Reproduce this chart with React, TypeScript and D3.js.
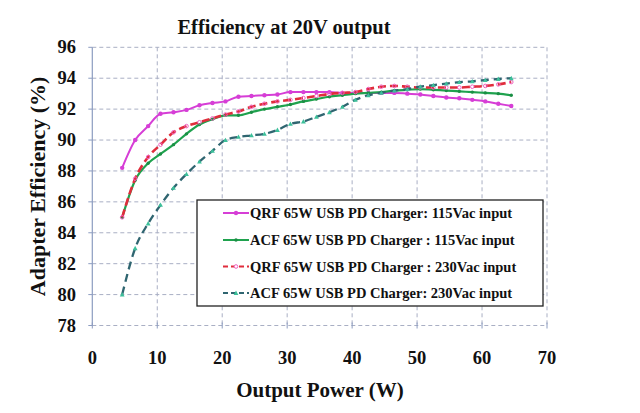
import React from "react";
import * as d3 from "d3";

const power = [
  4.6, 6.6, 8.6, 10.5, 12.5, 14.5, 16.5, 18.5, 20.5, 22.5, 24.5, 26.5, 28.5, 30.5, 32.5, 34.5,
  36.5, 38.5, 40.5, 42.5, 44.5, 46.5, 48.5, 50.5, 52.5, 54.5, 56.5, 58.5, 60.5, 62.5, 64.5,
];

const qrf115 = [
  88.2, 90.0, 90.9, 91.7, 91.8, 91.95, 92.25, 92.4, 92.5, 92.8, 92.85, 92.9, 92.95, 93.1, 93.1, 93.1,
  93.1, 93.05, 93.05, 93.05, 93.05, 93.05, 93.0, 92.95, 92.85, 92.75, 92.7, 92.6, 92.5, 92.35, 92.2,
];
const acf115 = [
  85.0, 87.4, 88.5, 89.1, 89.7, 90.4, 91.0, 91.35, 91.6, 91.6, 91.8, 92.0, 92.15, 92.3, 92.5, 92.65,
  92.8, 92.9, 93.0, 93.05, 93.1, 93.2, 93.25, 93.3, 93.25, 93.2, 93.15, 93.1, 93.05, 93.0, 92.9,
];
const qrf230 = [
  85.0, 87.5, 88.9, 89.7, 90.5, 90.9, 91.15, 91.4, 91.65, 91.85, 92.15, 92.35, 92.5, 92.6, 92.72, 92.85,
  92.98, 93.05, 93.1, 93.3, 93.45, 93.5, 93.45, 93.4, 93.4, 93.4, 93.4, 93.45, 93.5, 93.6, 93.75,
];
const acf230 = [
  80.0, 83.0, 84.6, 85.8, 86.9, 87.8, 88.6, 89.3, 90.0, 90.2, 90.3, 90.4, 90.65, 91.05, 91.2, 91.5,
  91.8, 92.15, 92.6, 92.9, 93.05, 93.2, 93.3, 93.45, 93.55, 93.65, 93.75, 93.8, 93.88, 93.95, 94.0,
];

const xTicks = [0, 10, 20, 30, 40, 50, 60, 70];
const yTicks = [78, 80, 82, 84, 86, 88, 90, 92, 94, 96];

const seriesNames = [
  "QRF 65W USB PD Charger: 115Vac input",
  "ACF 65W USB PD Charger : 115Vac input",
  "QRF 65W USB PD Charger : 230Vac input",
  "ACF 65W USB PD Charger: 230Vac input",
];

const FONT = "'Liberation Serif', 'Times New Roman', serif";

const series = [
  { name: seriesNames[0], values: qrf115, color: "#d63ed6", dash: null, width: 2, marker: "dot", mfill: "#d63ed6", mstroke: "none" },
  { name: seriesNames[1], values: acf115, color: "#1fa24e", dash: null, width: 2.2, marker: "small", mfill: "#1a8f44", mstroke: "none" },
  { name: seriesNames[2], values: qrf230, color: "#e02d3c", dash: "8,4", width: 2.6, marker: "circle", mfill: "none", mstroke: "#f060c0" },
  { name: seriesNames[3], values: acf230, color: "#2f6570", dash: "8,5", width: 2.3, marker: "tri", mfill: "#3cc09a", mstroke: "none" },
];

const W = 640;
const H = 413;

const x = d3.scaleLinear().domain([0, 70]).range([92.3, 547]);
const y = d3.scaleLinear().domain([78, 96]).range([325.5, 47.3]);

function Marker({ kind, cx, cy, fill, stroke }: { kind: string; cx: number; cy: number; fill: string; stroke: string }) {
  if (kind === "tri") {
    const s = 2.4;
    return <path d={`M${cx},${cy - s}L${cx + s},${cy + s * 0.8}L${cx - s},${cy + s * 0.8}Z`} fill={fill} />;
  }
  if (kind === "circle") {
    return <circle cx={cx} cy={cy} r={1.8} fill={fill} stroke={stroke} strokeWidth={1} />;
  }
  if (kind === "small") {
    return <circle cx={cx} cy={cy} r={1.7} fill={fill} />;
  }
  return <circle cx={cx} cy={cy} r={2.2} fill={fill} stroke={stroke} />;
}

export default function App() {
  const line = d3
    .line<number>()
    .x((_, i) => x(power[i]))
    .y((d) => y(d))
    .curve(d3.curveMonotoneX);

  const gridColor = "#a9afc4";
  const [x0, x1] = x.range();
  const [y0, y1] = y.range();

  const legendX = 197;
  const legendY = 200;
  const legendW = 346;
  const legendH = 106;
  const rowY = [213, 240, 266.5, 293];

  return (
    <svg
      width={W}
      height={H}
      style={{ position: "absolute", left: 0, top: 0, background: "#fff" }}
      fontFamily={FONT}
    >
      <rect width={W} height={H} fill="#fff" />

      {/* grid */}
      {yTicks.map((t) => (
        <line key={"gy" + t} x1={x0} x2={x1} y1={y(t)} y2={y(t)} stroke={gridColor} strokeWidth={1} strokeDasharray="4,3" />
      ))}
      {xTicks.slice(1).map((t) => (
        <line key={"gx" + t} x1={x(t)} x2={x(t)} y1={y1} y2={y0} stroke={gridColor} strokeWidth={1} strokeDasharray="4,3" />
      ))}

      {/* axes */}
      <line x1={x0} x2={x0} y1={y1} y2={y0} stroke="#8c9cc0" strokeWidth={1.2} />
      {yTicks.map((t) => (
        <line key={"ty" + t} x1={x0 - 4} x2={x0} y1={y(t)} y2={y(t)} stroke="#8c9cc0" strokeWidth={1} />
      ))}
      {xTicks.map((t) => (
        <line key={"tx" + t} x1={x(t)} x2={x(t)} y1={y0 - 3} y2={y0 + 3} stroke="#8c9cc0" strokeWidth={1} />
      ))}

      {/* tick labels */}
      {yTicks.map((t) => (
        <text key={"ly" + t} x={76} y={y(t) + 6} textAnchor="end" fontSize={18.5} fontWeight="bold" fill="#111">
          {t}
        </text>
      ))}
      {xTicks.map((t) => (
        <text key={"lx" + t} x={x(t)} y={364} textAnchor="middle" fontSize={18.5} fontWeight="bold" fill="#111">
          {t}
        </text>
      ))}

      {/* series */}
      {series.map((s) => (
        <g key={s.name}>
          <path
            d={line(s.values) || ""}
            fill="none"
            stroke={s.color}
            strokeWidth={s.width}
            strokeDasharray={s.dash || undefined}
          />
          {s.values.map((v, i) => (
            <Marker key={i} kind={s.marker} cx={x(power[i])} cy={y(v)} fill={s.mfill} stroke={s.mstroke} />
          ))}
        </g>
      ))}

      {/* legend */}
      <rect x={legendX} y={legendY} width={legendW} height={legendH} fill="#fff" stroke="#222" strokeWidth={1.3} />
      {series.map((s, i) => (
        <g key={"lg" + i}>
          <line
            x1={223}
            x2={249}
            y1={rowY[i]}
            y2={rowY[i]}
            stroke={s.color}
            strokeWidth={2}
            strokeDasharray={s.dash ? "5,3" : undefined}
          />
          <Marker kind={s.marker} cx={236} cy={rowY[i]} fill={s.mfill === "none" ? "#fff" : s.mfill} stroke={s.mstroke} />
          <text x={250} y={rowY[i] + 5} fontSize={14.5} fontWeight="bold" fill="#111">
            {s.name}
          </text>
        </g>
      ))}

      {/* titles */}
      <text x={284} y={34} textAnchor="middle" fontSize={20.5} fontWeight="bold" fill="#111">
        Efficiency at 20V output
      </text>
      <text x={320} y={397} textAnchor="middle" fontSize={21} fontWeight="bold" fill="#111">
        Output Power (W)
      </text>
      <text
        transform={`translate(45,${(y0 + y1) / 2}) rotate(-90)`}
        textAnchor="middle"
        fontSize={22}
        fontWeight="bold"
        fill="#111"
      >
        Adapter Efficiency (%)
      </text>
    </svg>
  );
}
